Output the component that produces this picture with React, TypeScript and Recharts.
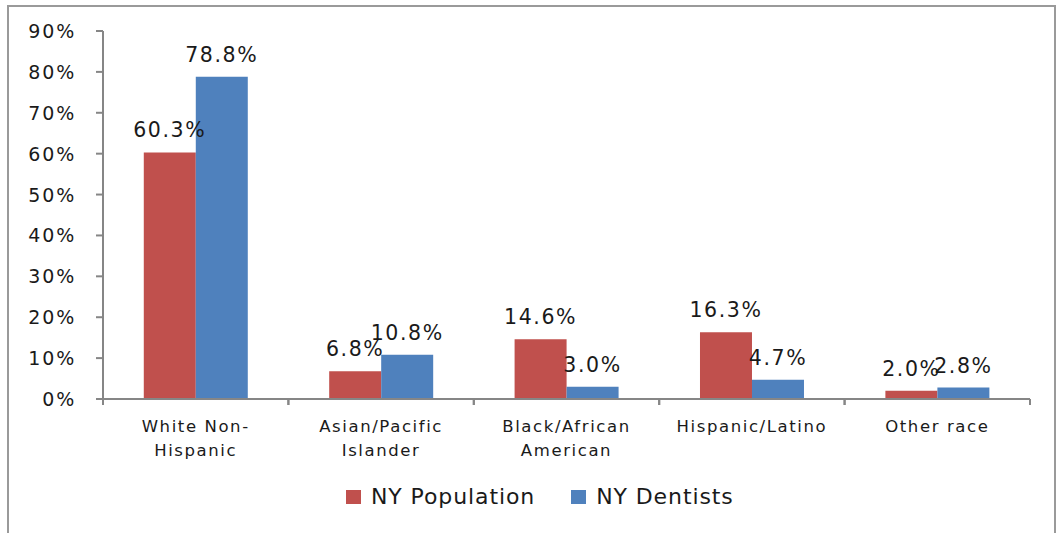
import React from 'react';
import { BarChart, Bar, XAxis, YAxis, Legend, LabelList } from 'recharts';

const categories = ['White Non-Hispanic', 'Asian/Pacific Islander', 'Black/African American', 'Hispanic/Latino', 'Other race'];
const categoryLines = [['White Non-', 'Hispanic'], ['Asian/Pacific', 'Islander'], ['Black/African', 'American'], ['Hispanic/Latino'], ['Other race']];
const nyPopulation = [60.3, 6.8, 14.6, 16.3, 2.0];
const nyDentists = [78.8, 10.8, 3.0, 4.7, 2.8];
const yTicks = [0, 10, 20, 30, 40, 50, 60, 70, 80, 90];
const seriesNames = ['NY Population', 'NY Dentists'];
const colors = ['#C0504D', '#4F81BD'];

const data = categories.map((c, i) => ({ name: c, pop: nyPopulation[i], den: nyDentists[i] }));

const FONT = '"DejaVu Sans", Verdana, sans-serif';
const TEXT = '#1a1a1a';
const AXIS = '#868686';

const XTick = (props: any) => {
  const { x, y, payload, index } = props;
  const half = payload && payload.offset ? payload.offset : 0;
  const lines = categoryLines[index] || [String(payload.value)];
  return (
    <g>
      <line x1={x - half} x2={x - half} y1={y - 6} y2={y} stroke={AXIS} strokeWidth={2} />
      <line x1={x + half} x2={x + half} y1={y - 6} y2={y} stroke={AXIS} strokeWidth={2} />
      <text x={x} y={y + 27} textAnchor="middle" fontFamily={FONT} fontSize={16.5} fill={TEXT} letterSpacing={1.6}>
        {lines.map((l: string, i: number) => (
          <tspan key={i} x={x} dy={i === 0 ? 0 : 24}>{l}</tspan>
        ))}
      </text>
    </g>
  );
};

const YTick = (props: any) => {
  const { x, y, payload } = props;
  return (
    <text x={x} y={y + 7} textAnchor="end" fontFamily={FONT} fontSize={19} fill={TEXT} letterSpacing={1.8}>
      {`${payload.value}%`}
    </text>
  );
};

const LegendContent = () => (
  <div style={{ display: 'flex', alignItems: 'center', fontFamily: FONT, fontSize: 22, color: TEXT, letterSpacing: 0.9 }}>
    {seriesNames.map((n, i) => (
      <div key={n} style={{ display: 'flex', alignItems: 'center', marginRight: 36 }}>
        <div style={{ width: 15, height: 14, background: colors[i], marginRight: 10 }} />
        <span>{n}</span>
      </div>
    ))}
  </div>
);

const fmt = (v: any) => `${Number(v).toFixed(1)}%`;

export default function App() {
  return (
    <div style={{ position: 'absolute', left: 0, top: 0, width: 1064, height: 533, background: '#fff', overflow: 'hidden' }}>
      <div style={{ position: 'absolute', left: 7, top: 5, width: 1049, height: 560, border: '2px solid #9a9a9a', boxSizing: 'border-box' }} />
      <div style={{ position: 'absolute', left: 0, top: 0 }}>
        <BarChart
          width={1064}
          height={533}
          data={data}
          margin={{ top: 31, right: 34, left: 23, bottom: 74 }}
          barCategoryGap="22%"
          barGap={0}
        >
          <XAxis
            dataKey="name"
            height={60}
            tickLine={false}
            tickSize={6}
            tickMargin={0}
            axisLine={{ stroke: AXIS, strokeWidth: 2 }}
            tick={<XTick />}
            interval={0}
          />
          <YAxis
            width={80}
            domain={[0, 90]}
            ticks={yTicks}
            tickSize={7}
            tickMargin={20}
            axisLine={{ stroke: AXIS, strokeWidth: 2 }}
            tickLine={{ stroke: AXIS, strokeWidth: 2 }}
            tick={<YTick />}
            interval={0}
          />
          <Legend
            layout="horizontal"
            verticalAlign="middle"
            align="center"
            wrapperStyle={{ left: 346, top: 484, width: 500, height: 30 }}
            content={<LegendContent />}
          />
          <Bar dataKey="pop" name={seriesNames[0]} fill={colors[0]} isAnimationActive={false}>
            <LabelList dataKey="pop" position="top" offset={15} formatter={fmt} fontFamily={FONT} fontSize={20.5} fill={TEXT} letterSpacing={1.6} />
          </Bar>
          <Bar dataKey="den" name={seriesNames[1]} fill={colors[1]} isAnimationActive={false}>
            <LabelList dataKey="den" position="top" offset={15} formatter={fmt} fontFamily={FONT} fontSize={20.5} fill={TEXT} letterSpacing={1.6} />
          </Bar>
        </BarChart>
      </div>
    </div>
  );
}
